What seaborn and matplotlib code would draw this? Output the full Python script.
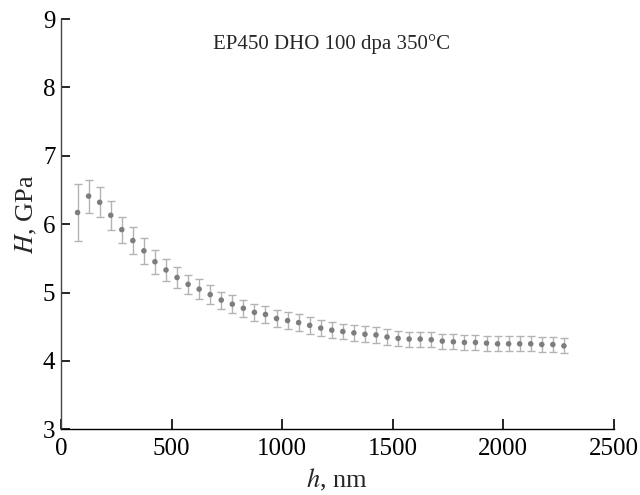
import matplotlib
matplotlib.use("Agg")
import matplotlib.pyplot as plt
import seaborn as sns
import pandas as pd

depth_nm = [75, 125, 175, 225, 275, 325, 375, 425, 475, 525, 575, 625, 675, 725, 775,
            825, 875, 925, 975, 1025, 1075, 1125, 1175, 1225, 1275, 1325, 1375, 1425,
            1475, 1525, 1575, 1625, 1675, 1725, 1775, 1825, 1875, 1925, 1975, 2025,
            2075, 2125, 2175, 2225, 2275]
hardness = [6.17, 6.41, 6.32, 6.13, 5.92, 5.76, 5.61, 5.45, 5.33, 5.22, 5.12, 5.05,
            4.97, 4.89, 4.83, 4.77, 4.71, 4.68, 4.62, 4.59, 4.56, 4.52, 4.48, 4.45,
            4.43, 4.41, 4.39, 4.38, 4.35, 4.33, 4.32, 4.32, 4.31, 4.29, 4.28, 4.27,
            4.27, 4.26, 4.25, 4.25, 4.25, 4.25, 4.24, 4.24, 4.22]
err = [0.41, 0.24, 0.22, 0.21, 0.19, 0.20, 0.19, 0.175, 0.16, 0.15, 0.14, 0.145,
       0.135, 0.125, 0.127, 0.125, 0.12, 0.12, 0.12, 0.12, 0.12, 0.12, 0.12, 0.115,
       0.115, 0.115, 0.115, 0.115, 0.115, 0.11, 0.11, 0.11, 0.11, 0.11, 0.11, 0.11,
       0.11, 0.11, 0.11, 0.11, 0.11, 0.11, 0.11, 0.11, 0.11]
x_ticks = [0, 500, 1000, 1500, 2000, 2500]
y_ticks = [3, 4, 5, 6, 7, 8, 9]
title = "EP450 DHO 100 dpa 350°C"

df = pd.DataFrame({"h": depth_nm, "H": hardness, "err": err})

sns.set_theme(style="ticks")
plt.rcParams["font.family"] = ["Liberation Serif", "DejaVu Serif"]
plt.rcParams["mathtext.fontset"] = "stix"

fig = plt.figure(figsize=(6.4, 4.95), dpi=100)
ax = fig.add_axes([0.0953, 0.1327, 0.8635, 0.8289])

ax.errorbar(df["h"], df["H"], yerr=df["err"], fmt="none", ecolor="#b3b3b3",
            elinewidth=1.0, capsize=3.2, capthick=1.0, zorder=1)
sns.scatterplot(data=df, x="h", y="H", ax=ax, color="#7d7d7d", s=16,
                edgecolor="none", zorder=2)

ax.set_xlim(0, 2500)
ax.set_ylim(3, 9)
ax.set_xticks(x_ticks)
ax.set_yticks(y_ticks)
ax.set_xticklabels([str(t) for t in x_ticks])
ax.set_yticklabels([str(t) for t in y_ticks])

ax.tick_params(axis="x", direction="in", length=7, width=1.2, labelsize=18, pad=6,
               colors="black")
ax.tick_params(axis="y", direction="in", length=6.5, width=1.2, labelsize=18, pad=4,
               colors="black")
sns.despine(ax=ax)
ax.spines["left"].set_color("#444444")
ax.spines["bottom"].set_color("black")
ax.spines["left"].set_linewidth(1.0)
ax.spines["bottom"].set_linewidth(1.0)

ax.set_xlabel(r"$h$, nm", fontsize=19, labelpad=5)
ax.set_ylabel(r"$H$, GPa", fontsize=19)
ax.yaxis.set_label_coords(-0.04, 0.525)
ax.text(0.49, 0.94, title, transform=ax.transAxes, ha="center", va="center",
        fontsize=15)

fig.savefig("out.png", dpi=100)
